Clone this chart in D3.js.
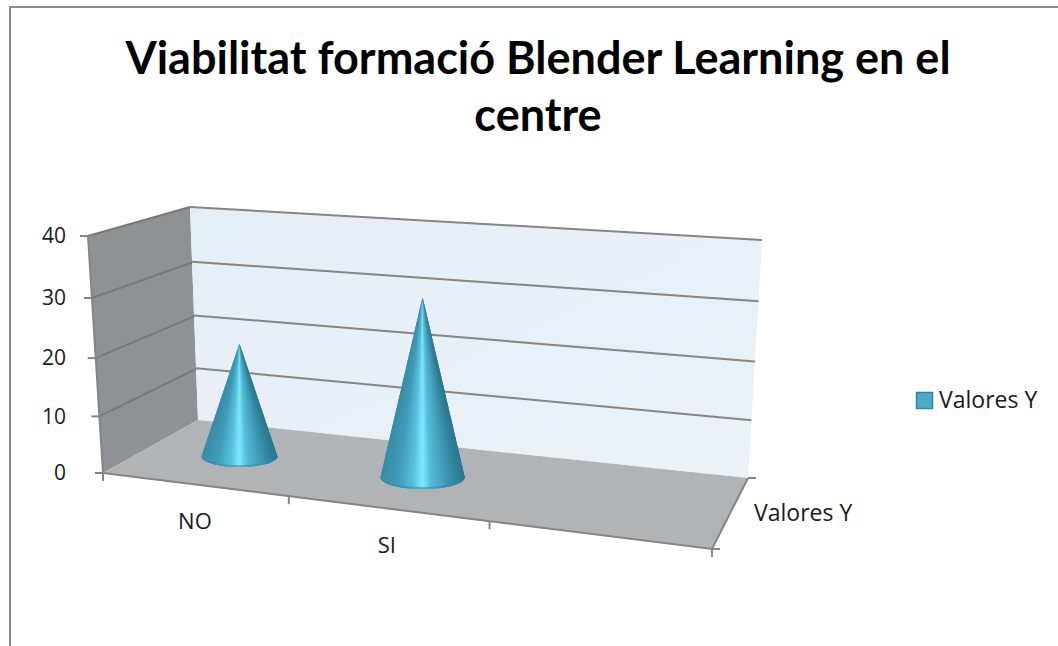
<!DOCTYPE html>
<html>
<head>
<meta charset="utf-8">
<script src="https://cdn.jsdelivr.net/npm/d3@7"></script>
<style>
    html, body { margin: 0; padding: 0; background: #fff; overflow: hidden; }
    text { font-family: "Open Sans", Lato, sans-serif; fill: #1a1a1a; }
</style>
</head>
<body>
<div id="chart"></div>
<script>
// Values
const categories = ["NO", "SI", ""];
const values = [20, 32, null];
const valueTicks = [0, 10, 20, 30, 40];
const titleLines = ["Viabilitat formació Blender Learning en el", "centre"];
const seriesName = "Valores Y";

const width = 1058, height = 646;

// Maps the unit square onto a four sided face, so the faces keep their perspective
// corners: [u0v0, u1v0, u1v1, u0v1]
function homography(c) {
    const [p0, p1, p2, p3] = c;
    const dx1 = p1[0] - p2[0], dx2 = p3[0] - p2[0], sx = p0[0] - p1[0] + p2[0] - p3[0];
    const dy1 = p1[1] - p2[1], dy2 = p3[1] - p2[1], sy = p0[1] - p1[1] + p2[1] - p3[1];
    const det = dx1 * dy2 - dx2 * dy1;
    const g = (sx * dy2 - dx2 * sy) / det;
    const h = (dx1 * sy - sx * dy1) / det;
    const a = p1[0] - p0[0] + g * p1[0], b = p3[0] - p0[0] + h * p3[0];
    const d = p1[1] - p0[1] + g * p1[1], e = p3[1] - p0[1] + h * p3[1];
    return (u, v) => {
        const w = g * u + h * v + 1;
        return [(a * u + b * v + p0[0]) / w, (d * u + e * v + p0[1]) / w];
    };
}

// Box faces
const sideCorners = [[103, 473], [198, 420], [190, 207], [88, 236]];
const backCorners = [[198, 420], [748, 478], [762, 240], [190, 207]];
const floorCorners = [[103, 473], [712, 549], [748, 478], [198, 420]];
const side = homography(sideCorners);
const back = homography(backCorners);
const floor = homography(floorCorners);

const band = d3.scaleBand().domain(categories).range([0, 1]);
// The floor foreshortens a little too much on its own, this evens it out
const warp = d3.scalePow().exponent(0.975).domain([0, 1]).range([0, 1]);
const xEnd = c => warp(band(c) + band.bandwidth());
const xMid = c => warp(band(c) + band.bandwidth() / 2);

const v = d3.scaleLinear().domain([0, 40]).range([0, 1]);
const coneHeight = d3.scaleLinear().domain([0, 40]).range([0, 225]);

const line = d3.line();

const svg = d3.select("#chart").append("svg")
    .attr("width", width)
    .attr("height", height);

// Outer frame, the crop only shows its top and left edges
svg.append("path")
    .attr("d", line([[10, height], [10, 7], [width, 7]]))
    .attr("fill", "none")
    .attr("stroke", "#8a8a8a")
    .attr("stroke-width", 2);

// Title
svg.append("g").selectAll("text")
    .data(titleLines)
    .enter().append("text")
    .attr("x", 538)
    .attr("y", (d, i) => 74 + i * 57)
    .attr("text-anchor", "middle")
    .style("font-family", "Lato, sans-serif")
    .style("font-size", "45px")
    .style("font-weight", 700)
    .style("fill", "#000")
    .text(d => d);

// Gradients
const defs = svg.append("defs");
const wallGrad = defs.append("linearGradient").attr("id", "wall-grad")
    .attr("x1", 0).attr("y1", 0).attr("x2", 1).attr("y2", 1);
wallGrad.append("stop").attr("offset", 0).attr("stop-color", "#e6eef5");
wallGrad.append("stop").attr("offset", 1).attr("stop-color", "#ebf1f7");

// Faces
svg.append("path").attr("d", line(sideCorners) + "Z").attr("fill", "#8f9194");
svg.append("path").attr("d", line(backCorners) + "Z").attr("fill", "url(#wall-grad)");
svg.append("path").attr("d", line(floorCorners) + "Z").attr("fill", "#b1b4b7");

// Gridlines on both walls
const grid = svg.append("g")
    .attr("fill", "none")
    .attr("stroke", "#858585")
    .attr("stroke-width", 2);

valueTicks.forEach(t => {
    const f = v(t);
    if (t > 0) {
        grid.append("path").attr("d", line([side(0, f), side(1, f)])).attr("stroke", "#787878");
        grid.append("path").attr("d", line([back(0, f), back(1, f)]));
    }
    const p = side(0, f);
    grid.append("path").attr("d", line([[p[0] - 8, p[1]], p]));
});

// Axis lines
grid.append("path").attr("d", line([side(0, 0), side(0, 1)]));
grid.append("path").attr("d", line([floor(0, 0), floor(1, 0), floor(1, 1)]));
grid.append("path").attr("d", line([floor(0, 0), [floor(0, 0)[0], floor(0, 0)[1] + 8]]));
categories.forEach(c => {
    const p = floor(xEnd(c), 0);
    grid.append("path").attr("d", line([p, [p[0], p[1] + 8]]));
});
[floor(1, 0), floor(1, 1)].forEach(p => {
    grid.append("path").attr("d", line([p, [p[0] + 8, p[1]]]));
});

// Value labels
svg.append("g").selectAll("text")
    .data(valueTicks)
    .enter().append("text")
    .attr("x", 66)
    .attr("y", d => side(0, v(d))[1])
    .attr("dy", "0.35em")
    .attr("text-anchor", "end")
    .style("font-size", "21px")
    .text(d => d);

// Category labels
svg.append("g").selectAll("text")
    .data(categories)
    .enter().append("text")
    .attr("x", d => floor(xMid(d), 0)[0])
    .attr("y", d => floor(xMid(d), 0)[1] + 37)
    .attr("dy", "0.35em")
    .attr("text-anchor", "middle")
    .style("font-size", "22px")
    .text(d => d);

// Depth axis label
svg.append("text")
    .attr("x", 754)
    .attr("y", 513)
    .attr("dy", "0.35em")
    .style("font-size", "23px")
    .text(seriesName);

// Cones, drawn as thin wedges from the tip so the shading narrows toward it
const coneRadius = 0.073, coneDepth = 0.48, coneDepthRadius = 0.19, wedgeCount = 72;

const coneColor = d3.scaleLinear()
    .domain([0, 0.2, 0.38, 0.5, 0.6, 0.8, 0.93, 1])
    .range(["#3a8ca6", "#3f9cb8", "#58c0dc", "#80e8ff", "#56bcd8", "#3f97b2", "#2f8099", "#2a7890"]);

function coneShape(d) {
    const u = xMid(d.c);
    const center = floor(u, coneDepth);
    const left = floor(u - coneRadius, coneDepth);
    const right = floor(u + coneRadius, coneDepth);
    const near = floor(u, coneDepth - coneDepthRadius);
    return {
        center,
        rx: (right[0] - left[0]) / 2,
        ry: near[1] - center[1],
        apex: [center[0], center[1] - coneHeight(d.value)]
    };
}

const cones = svg.append("g").selectAll("g")
    .data(categories.map((c, i) => ({ c, value: values[i] })).filter(d => d.value !== null))
    .enter().append("g");

cones.each(function (d) {
    const g = coneShape(d);
    const [cx, cy] = g.center;
    const edge = a => [cx + g.rx * Math.cos(a), cy + g.ry * Math.sin(a)];
    const angle = i => Math.PI * (1 - i / wedgeCount);

    // Each wedge runs under the next one, otherwise the seams show up as a pattern
    d3.select(this).selectAll("path.wedge")
        .data(d3.range(wedgeCount))
        .enter().append("path")
        .attr("class", "wedge")
        .attr("d", i => line([g.apex, edge(angle(i)), edge(angle(Math.min(i + 3, wedgeCount)))]) + "Z")
        .attr("fill", i => coneColor((edge(angle(i + 0.5))[0] - cx + g.rx) / (2 * g.rx)));

    // Dark rim along the base
    d3.select(this).append("path")
        .attr("d", `M${cx + g.rx},${cy}A${g.rx},${g.ry} 0 0 1 ${cx - g.rx},${cy}A${g.rx},${g.ry * 0.82} 0 0 0 ${cx + g.rx},${cy}Z`)
        .attr("fill", "#2f8aa5")
        .attr("opacity", 0.6);
});

// Legend
svg.append("rect")
    .attr("x", 916.5)
    .attr("y", 392.5)
    .attr("width", 16)
    .attr("height", 16)
    .attr("fill", "#4bacc6")
    .attr("stroke", "#37859c")
    .attr("stroke-width", 1.5);

svg.append("text")
    .attr("x", 939)
    .attr("y", 400)
    .attr("dy", "0.35em")
    .style("font-size", "23px")
    .text(seriesName);
</script>
</body>
</html>
